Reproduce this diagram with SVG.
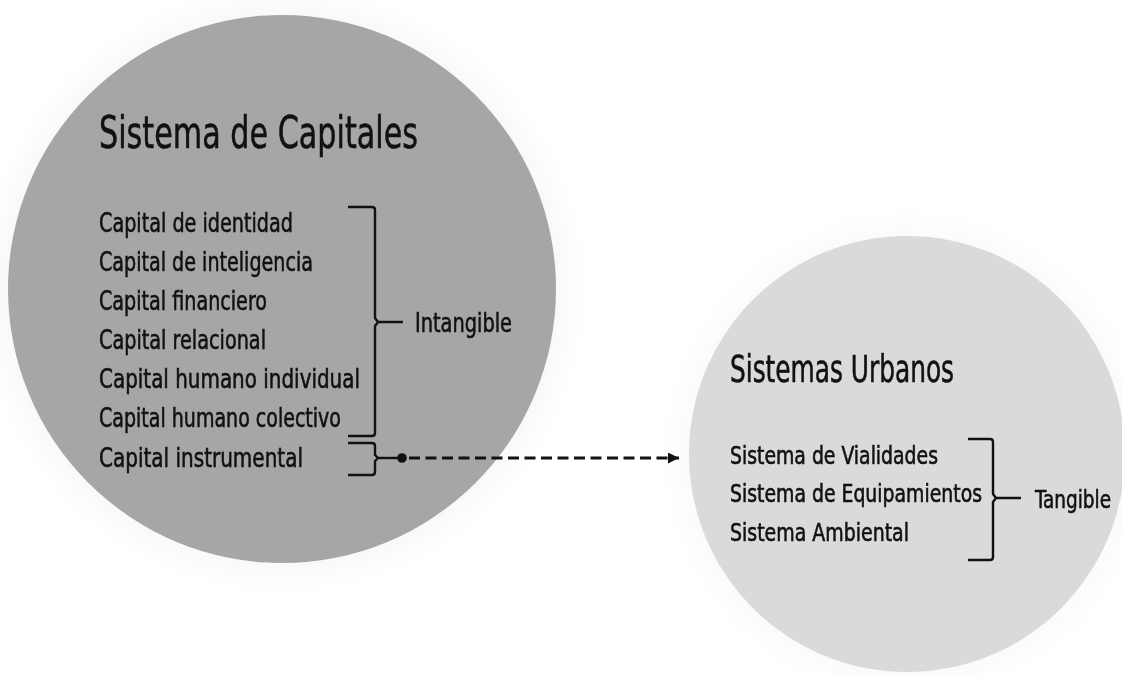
<svg xmlns="http://www.w3.org/2000/svg" width="1122" height="675" viewBox="0 0 1122 675">
  <defs>
    <style>
      .t { font-family: "Liberation Sans Narrow", "DejaVu Sans Condensed", "Liberation Sans", sans-serif; fill: #111; stroke: #111; stroke-width: 0.55px; }
      .title { font-size: 45px; }
      .title2 { font-size: 37px; }
      .item { font-size: 26px; }
      .item2 { font-size: 24px; }
      .br { fill: none; stroke: #111; stroke-width: 2.4; stroke-linejoin: round; }
      .dash { fill: none; stroke: #111; stroke-width: 3.2; stroke-dasharray: 11 5.5; }
    </style>
    <marker id="arrow" viewBox="0 0 10 10" refX="10" refY="5" markerWidth="12" markerHeight="11" markerUnits="userSpaceOnUse" orient="auto">
      <path d="M0,0 L10,5 L0,10 Z" fill="#111"/>
    </marker>
    <filter id="soft" x="-20%" y="-20%" width="140%" height="140%">
      <feGaussianBlur stdDeviation="14"/>
    </filter>
  </defs>
  <rect width="1122" height="675" fill="#ffffff"/>

  <g id="halo" opacity="0.35">
    <circle cx="282" cy="289" r="282" fill="#e6e6e6" filter="url(#soft)"/>
    <circle cx="907" cy="454" r="225" fill="#eeeeee" filter="url(#soft)"/>
  </g>

  <g id="node-capitales">
    <circle cx="282" cy="289" r="274" fill="#a6a6a6"/>
    <text class="t title" x="99" y="148" textLength="319" lengthAdjust="spacingAndGlyphs">Sistema de Capitales</text>
    <text class="t item" x="99" y="232" textLength="194" lengthAdjust="spacingAndGlyphs">Capital de identidad</text>
    <text class="t item" x="99" y="271" textLength="214" lengthAdjust="spacingAndGlyphs">Capital de inteligencia</text>
    <text class="t item" x="99" y="310" textLength="168" lengthAdjust="spacingAndGlyphs">Capital financiero</text>
    <text class="t item" x="99" y="349" textLength="167" lengthAdjust="spacingAndGlyphs">Capital relacional</text>
    <text class="t item" x="99" y="388" textLength="261" lengthAdjust="spacingAndGlyphs">Capital humano individual</text>
    <text class="t item" x="99" y="427" textLength="242" lengthAdjust="spacingAndGlyphs">Capital humano colectivo</text>
    <text class="t item" x="99" y="467" textLength="204" lengthAdjust="spacingAndGlyphs">Capital instrumental</text>
    <path class="br" d="M348,207 H372 Q375,207 375,210 V318 L378,322 H403 M378,322 L375,326 V433 Q375,436 372,436 H348"/>
    <path class="br" d="M348,443 H372 Q375,443 375,446 V455 L378,458 M378,458 L375,461 V472 Q375,475 372,475 H348"/>
    <text class="t item" x="415" y="332" textLength="97" lengthAdjust="spacingAndGlyphs">Intangible</text>
  </g>

  <g id="node-urbanos">
    <circle cx="907" cy="454" r="218" fill="#dadada"/>
    <text class="t title2" x="730" y="382" textLength="224" lengthAdjust="spacingAndGlyphs">Sistemas Urbanos</text>
    <text class="t item2" x="730" y="464" textLength="208" lengthAdjust="spacingAndGlyphs">Sistema de Vialidades</text>
    <text class="t item2" x="730" y="502" textLength="252" lengthAdjust="spacingAndGlyphs">Sistema de Equipamientos</text>
    <text class="t item2" x="730" y="541" textLength="179" lengthAdjust="spacingAndGlyphs">Sistema Ambiental</text>
    <path class="br" d="M968,439 H990 Q993,439 993,442 V494 L996,498 H1021 M996,498 L993,502 V557 Q993,560 990,560 H968"/>
    <text class="t item2" x="1035" y="508" textLength="76" lengthAdjust="spacingAndGlyphs">Tangible</text>
  </g>

  <g id="connectors">
    <line x1="378" y1="458" x2="402" y2="458" stroke="#111" stroke-width="2.4"/>
    <circle cx="402" cy="458" r="4.8" fill="#111"/>
    <line class="dash" x1="409" y1="458" x2="679" y2="458" marker-end="url(#arrow)"/>
  </g>
</svg>
